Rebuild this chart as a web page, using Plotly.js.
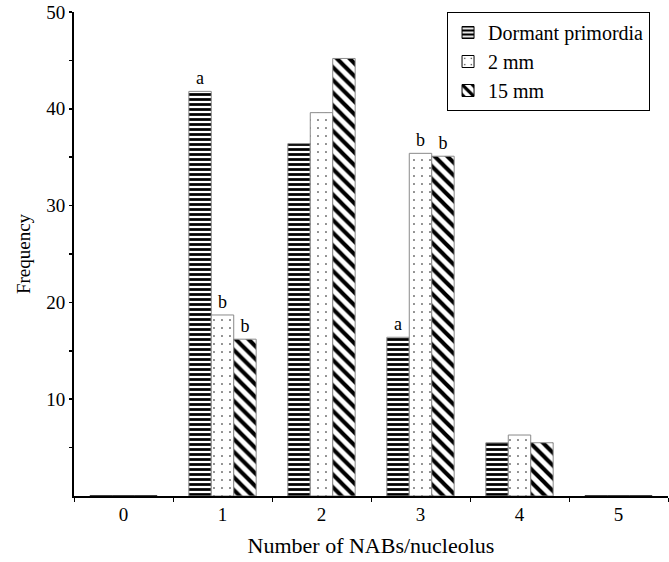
<!DOCTYPE html>
<html>
<head>
<meta charset="utf-8">
<script src="https://cdn.plot.ly/plotly-3.0.1.min.js"></script>
<style>html,body{margin:0;padding:0;background:#fff;}#chart{width:669px;height:562px;}</style>
</head>
<body>
<div id="chart"></div>
<script>
const categories = ["0", "1", "2", "3", "4", "5"];
const dormant = [0, 41.8, 36.4, 16.4, 5.5, 0];
const mm2 = [0, 18.7, 39.6, 35.4, 6.3, 0];
const mm15 = [0, 16.2, 45.2, 35.1, 5.5, 0];
const dormantLetters = ["", "a", "", "a", "", ""];
const mm2Letters = ["", "b", "", "b", "", ""];
const mm15Letters = ["", "b", "", "b", "", ""];
const seriesNames = ["Dormant primordia", "2 mm", "15 mm"];
const yTickVals = [5, 10, 15, 20, 25, 30, 35, 40, 45, 50];
const yTickText = ["", "10", "", "20", "", "30", "", "40", "", "50"];

const font = "Liberation Serif, Times New Roman, serif";

function barTrace(name, values, letters, pattern, group) {
  return {
    type: "bar",
    name: name,
    x: categories,
    y: values,
    text: letters,
    textposition: "outside",
    constraintext: "none",
    cliponaxis: false,
    textfont: {family: font, size: 18, color: "#000"},
    legendgroup: group,
    marker: {
      color: "#fff",
      line: {color: values.map(v => v > 0 ? "#8a8a8a" : "#000"), width: 1},
      pattern: pattern
    },
    hoverinfo: "skip"
  };
}

const data = [
  barTrace(seriesNames[0], dormant, dormantLetters,
    {shape: "-", size: 5, solidity: 0.55, fgcolor: "#000", bgcolor: "#fff", fgopacity: 1, fillmode: "overlay"}, "g1"),
  barTrace(seriesNames[1], mm2, mm2Letters,
    {shape: ".", size: 8, solidity: 0.03, fgcolor: "#000", bgcolor: "#fff", fgopacity: 1, fillmode: "overlay"}, "g2"),
  barTrace(seriesNames[2], mm15, mm15Letters,
    {shape: "\\", size: 9, solidity: 0.45, fgcolor: "#000", bgcolor: "#fff", fgopacity: 1, fillmode: "overlay"}, "g3")
];

const layout = {
  width: 669,
  height: 562,
  margin: {l: 74, r: 1, t: 12, b: 66},
  paper_bgcolor: "#fff",
  plot_bgcolor: "#fff",
  font: {family: font, size: 18, color: "#000"},
  barmode: "group",
  bargap: 0.32,
  bargroupgap: 0,
  showlegend: true,
  legend: {
    x: 0.628, y: 1.0, xanchor: "left", yanchor: "top",
    bordercolor: "#000", borderwidth: 1, bgcolor: "#fff",
    font: {family: font, size: 20, color: "#000"},
    tracegroupgap: 4,
    traceorder: "normal"
  },
  xaxis: {
    type: "category",
    range: [-0.5, 5.5],
    layer: "above traces",
    showline: true, linecolor: "#000", linewidth: 2,
    ticks: "outside", tickson: "boundaries", ticklen: 4, tickwidth: 1, tickcolor: "#000",
    showgrid: false, zeroline: false,
    tickfont: {family: font, size: 19, color: "#000"},
    title: {text: "Number of NABs/nucleolus", font: {family: font, size: 22, color: "#000"}, standoff: 14}
  },
  yaxis: {
    range: [0, 50],
    layer: "above traces",
    showline: true, linecolor: "#000", linewidth: 2,
    ticks: "outside", ticklen: 3, tickwidth: 1.5, tickcolor: "#000",
    tickvals: yTickVals, ticktext: yTickText,
    showgrid: false, zeroline: false,
    tickfont: {family: font, size: 19, color: "#000"},
    title: {text: "Frequency", font: {family: font, size: 19, color: "#000"}, standoff: 11}
  }
};

Plotly.newPlot("chart", data, layout, {staticPlot: true, displayModeBar: false});
</script>
</body>
</html>
